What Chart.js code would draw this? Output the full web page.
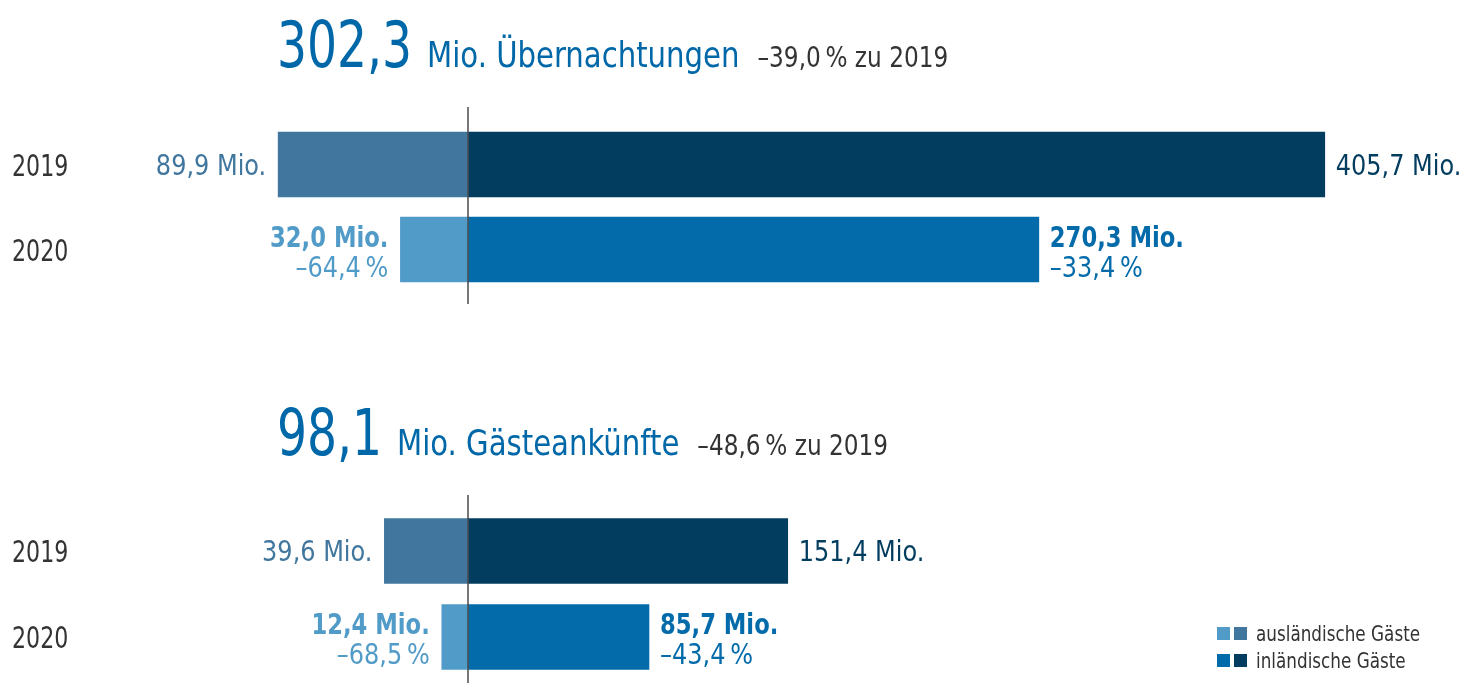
<!DOCTYPE html>
<html>
<head>
<meta charset="utf-8">
<script src="https://cdn.jsdelivr.net/npm/chart.js@4/dist/chart.umd.min.js"></script>
<style>
  body { margin: 0; background: #fff; }
  .box { position: absolute; left: 0; width: 1465px; }
</style>
</head>
<body>
<div class="box" style="top:0;height:340px"><canvas id="nights" width="1465" height="340"></canvas></div>
<div class="box" style="top:340px;height:343px"><canvas id="arrivals" width="1465" height="343"></canvas></div>
<script>
// Werte in Mio.
var years = ["2019", "2020"];
var nightsForeign = [89.9, 32.0];
var nightsDomestic = [405.7, 270.3];
var nightsForeignChange = [null, -64.4];
var nightsDomesticChange = [null, -33.4];
var nightsTotal = 302.3;
var nightsTotalChange = -39.0;

var arrivalsForeign = [39.6, 12.4];
var arrivalsDomestic = [151.4, 85.7];
var arrivalsForeignChange = [null, -68.5];
var arrivalsDomesticChange = [null, -43.4];
var arrivalsTotal = 98.1;
var arrivalsTotalChange = -48.6;

var legendLabels = ["ausländische Gäste", "inländische Gäste"];

var foreignColors = ["#41779e", "#519bc8"];
var domesticColors = ["#023c5f", "#036baa"];
var FONT = '"DejaVu Sans Condensed", sans-serif';

function num(v) {
    var s = Math.abs(v).toFixed(1).replace(".", ",");
    return (v < 0 ? "\u2013" : "") + s;
}

// Text schmaler zeichnen (Schrift ist im Original eine Condensed-Schrift)
function drawText(ctx, text, x, y, font, sx, align) {
    ctx.font = font;
    var w = ctx.measureText(text).width * sx;
    var left = x;
    if (align === "right") left = x - w;
    ctx.save();
    ctx.textAlign = "left";
    ctx.translate(left, y);
    ctx.scale(sx, 1);
    ctx.fillText(text, 0, 0);
    ctx.restore();
    return w;
}

var labelPlugin = {
    id: "labels",
    afterDatasetsDraw: function (chart, args, o) {
        var ctx = chart.ctx;
        var xs = chart.scales.x, ys = chart.scales.y;
        var x0 = xs.getPixelForValue(0);
        ctx.save();

        // Nulllinie
        ctx.strokeStyle = "#4a4a4a";
        ctx.lineWidth = 1.5;
        ctx.beginPath();
        ctx.moveTo(x0, o.lineTop);
        ctx.lineTo(x0, o.lineBottom);
        ctx.stroke();

        // Titel
        var tx = 277;
        ctx.textBaseline = "alphabetic";
        ctx.fillStyle = "#0068a8";
        tx += drawText(ctx, num(o.total), tx, o.titleY, "64px " + FONT, 0.82) + 15;
        tx += drawText(ctx, o.titleText, tx, o.titleY, "36px " + FONT, 0.9) + 18;
        ctx.fillStyle = "#333";
        drawText(ctx, num(o.totalChange) + "\u2009% zu 2019", tx, o.titleY, "29px " + FONT, 0.89);

        // Jahre
        ctx.fillStyle = "#333";
        years.forEach(function (yr, i) {
            drawText(ctx, yr, 12, ys.getPixelForValue(i) + 11, "30px " + FONT, 0.82);
        });

        // Balkenbeschriftung
        chart.data.datasets.forEach(function (ds, di) {
            var meta = chart.getDatasetMeta(di);
            meta.data.forEach(function (bar, i) {
                var left = ds.data[i] < 0;
                var px = left ? bar.x - 12 : bar.x + 11;
                var al = left ? "right" : "left";
                ctx.fillStyle = ds.backgroundColor[i];
                var label = num(Math.abs(ds.data[i])) + " Mio.";
                var ch = ds.change[i];
                if (ch === null) {
                    drawText(ctx, label, px, bar.y + 10, "29px " + FONT, 0.92, al);
                } else {
                    drawText(ctx, label, px, bar.y - 3, "bold 28px " + FONT, 0.9, al);
                    drawText(ctx, num(ch) + "\u2009%", px, bar.y + 27, "29px " + FONT, 0.92, al);
                }
            });
        });

        // Legende
        if (o.legend) {
            var rows = [[foreignColors[1], foreignColors[0]], [domesticColors[1], domesticColors[0]]];
            rows.forEach(function (cols, r) {
                var ly = o.legendY + r * 27;
                ctx.fillStyle = cols[0];
                ctx.fillRect(1217, ly, 13, 13);
                ctx.fillStyle = cols[1];
                ctx.fillRect(1234, ly, 13, 13);
                ctx.fillStyle = "#333";
                drawText(ctx, legendLabels[r], 1256, ly + 14, "21px " + FONT, 0.89);
            });
        }
        ctx.restore();
    }
};

function makeChart(id, foreign, domestic, fChange, dChange, padTop, padBottom, opts) {
    var ctx = document.getElementById(id).getContext("2d");
    return new Chart(ctx, {
        type: "bar",
        data: {
            labels: years,
            datasets: [
                {
                    label: legendLabels[0],
                    data: foreign.map(function (v) { return -v; }),
                    backgroundColor: foreignColors,
                    change: fChange
                },
                {
                    label: legendLabels[1],
                    data: domestic,
                    backgroundColor: domesticColors,
                    change: dChange
                }
            ]
        },
        options: {
            indexAxis: "y",
            responsive: false,
            animation: false,
            layout: { padding: { top: padTop, bottom: padBottom, left: 0, right: 0 } },
            datasets: { bar: { barThickness: 65, categoryPercentage: 1, barPercentage: 1 } },
            scales: {
                x: { stacked: true, display: false, min: -221.6, max: 472.1 },
                y: { stacked: true, display: false }
            },
            plugins: {
                legend: { display: false },
                tooltip: { enabled: false },
                labels: opts
            }
        },
        plugins: [labelPlugin]
    });
}

makeChart("nights", nightsForeign, nightsDomestic, nightsForeignChange, nightsDomesticChange, 122, 48, {
    total: nightsTotal, totalChange: nightsTotalChange, titleText: "Mio. Übernachtungen",
    titleY: 67, lineTop: 107, lineBottom: 304, legend: false
});

makeChart("arrivals", arrivalsForeign, arrivalsDomestic, arrivalsForeignChange, arrivalsDomesticChange, 168, 3, {
    total: arrivalsTotal, totalChange: arrivalsTotalChange, titleText: "Mio. Gästeankünfte",
    titleY: 115, lineTop: 155, lineBottom: 343, legend: true, legendY: 287
});
</script>
</body>
</html>
